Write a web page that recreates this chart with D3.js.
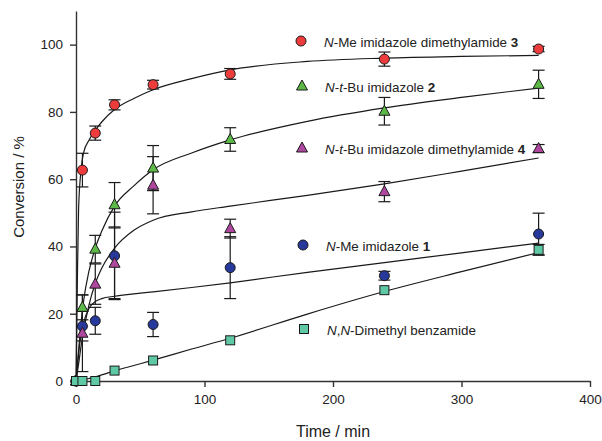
<!DOCTYPE html>
<html>
<head>
<meta charset="utf-8">
<script src="https://cdn.jsdelivr.net/npm/d3@7"></script>
<style>
  body { margin: 0; background: #fff; }
  svg { font-family: "Liberation Sans", Arial, sans-serif; }
  .axis path, .axis line { stroke: #333; stroke-width: 1.4; }
  .axis text { fill: #222; font-size: 13.5px; }
</style>
</head>
<body>
<svg width="602" height="441"></svg>
<script>
// ---- data ----
const times = [0, 5, 15, 30, 60, 120, 240, 360];

const redVals = [0, 62.7, 73.7, 82.1, 88.1, 91.3, 95.7, 98.7];
const redErr = [0, 5, 2.1, 1.5, 1.3, 1.6, 2.1, 0.8];
const greenVals = [0, 21.9, 39.2, 52.4, 63.3, 71.8, 80.2, 88.2];
const greenErr = [0, 3.7, 4.1, 6.6, 6.7, 3.5, 4.1, 4.2];
const magentaVals = [0, 14.2, 28.8, 35, 58.2, 45.3, 56.3, 69.1];
const magentaErr = [0, 11.4, 6, 10.5, 8.5, 2.8, 3, 1.2];
const blueVals = [0, 16.3, 17.9, 37.2, 16.8, 33.7, 31.3, 43.7];
const blueErr = [0, 4.4, 4, 13, 3.6, 9.2, 1.3, 6.2];
const tealVals = [0, 0, 0, 3.1, 6.1, 12.1, 27, 39];
const tealErr = [0, 0, 0, 0, 0, 0, 0, 1.6];

// fitted curves, read at these times
const fitTimes = [0, 1, 2, 4, 6, 10, 15, 20, 30, 45, 60, 90, 120, 180, 240, 300, 360];
const fitRed = [0, 28, 51, 63, 68, 71.5, 74.5, 77, 80.7, 84, 86.6, 89.9, 92.5, 95, 96, 96.5, 96.8];
const fitGreen = [0, 4.5, 9, 17.5, 24, 32.5, 39.5, 44.5, 52, 58, 62.8, 67.8, 71.7, 77.2, 81.2, 84.3, 87.1];
const fitMagenta = [0, 2.5, 5, 10.5, 15, 22.5, 29, 33.5, 39.5, 44.8, 47.8, 50.3, 52, 55.2, 58.6, 62.4, 66.3];
const fitBlue = [0, 4, 8, 14, 17.5, 21.5, 23.6, 24.5, 25.2, 25.9, 26.5, 27.8, 29.2, 32.3, 35.2, 38.1, 41];
const fitTeal = [0, 0.05, 0.1, 0.25, 0.4, 0.75, 1.2, 1.8, 3, 4.6, 6.2, 9.5, 12.7, 19.9, 26.6, 32.5, 38.2];

const xTicks = [0, 100, 200, 300, 400];
const yTicks = [0, 20, 40, 60, 80, 100];

// ---- series setup ----
const series = [
  { vals: blueVals, err: blueErr, fit: fitBlue, shape: "circle", color: "#27399a",
    label: [["N", "i"], ["-Me imidazole ", ""], ["1", "b"]], lx: 303, ly: 245 },
  { vals: magentaVals, err: magentaErr, fit: fitMagenta, shape: "triangle", color: "#b0479f",
    label: [["N", "i"], ["-", ""], ["t", "i"], ["-Bu imidazole dimethylamide ", ""], ["4", "b"]], lx: 302, ly: 148 },
  { vals: greenVals, err: greenErr, fit: fitGreen, shape: "triangle", color: "#5cb847",
    label: [["N", "i"], ["-", ""], ["t", "i"], ["-Bu imidazole ", ""], ["2", "b"]], lx: 302, ly: 86 },
  { vals: redVals, err: redErr, fit: fitRed, shape: "circle", color: "#ee3b3b",
    label: [["N", "i"], ["-Me imidazole dimethylamide ", ""], ["3", "b"]], lx: 301, ly: 41 },
  { vals: tealVals, err: tealErr, fit: fitTeal, shape: "square", color: "#5fc9a6",
    label: [["N", "i"], [",", ""], ["N", "i"], ["-Dimethyl benzamide", ""]], lx: 304, ly: 329 }
];

const svg = d3.select("svg");

const x = d3.scaleLinear().domain([0, 400]).range([76, 590]);
const y = d3.scaleLinear().domain([0, 110]).range([381, 11]);

// axes
svg.append("g")
  .attr("class", "axis")
  .attr("transform", "translate(0,381)")
  .call(d3.axisBottom(x).tickValues(xTicks).tickSize(6).tickSizeOuter(0).tickPadding(7));

svg.append("g")
  .attr("class", "axis")
  .attr("transform", "translate(76,0)")
  .call(d3.axisLeft(y).tickValues(yTicks).tickSize(6).tickSizeOuter(0).tickPadding(7));

svg.append("text")
  .attr("x", 333).attr("y", 437)
  .attr("text-anchor", "middle")
  .style("font-size", "16px").attr("fill", "#222")
  .text("Time / min");

svg.append("text")
  .attr("transform", "translate(24,187) rotate(-90)")
  .attr("text-anchor", "middle")
  .style("font-size", "15px").attr("fill", "#222")
  .text("Conversion / %");

// fit lines
const line = d3.line()
  .x((d, i) => x(fitTimes[i]))
  .y(d => y(d))
  .curve(d3.curveMonotoneX);

series.forEach(s => {
  svg.append("path")
    .attr("d", line(s.fit))
    .attr("fill", "none")
    .attr("stroke", "#1a1a1a")
    .attr("stroke-width", 1.2);
});

// error bars
series.forEach(s => {
  const g = svg.append("g").attr("stroke", "#1a1a1a").attr("stroke-width", 1.2);
  times.forEach((t, i) => {
    const e = s.err[i];
    if (!e) return;
    const cx = x(t), top = y(s.vals[i] + e), bot = y(s.vals[i] - e);
    g.append("line").attr("x1", cx).attr("x2", cx).attr("y1", top).attr("y2", bot);
    g.append("line").attr("x1", cx - 6).attr("x2", cx + 6).attr("y1", top).attr("y2", top);
    g.append("line").attr("x1", cx - 6).attr("x2", cx + 6).attr("y1", bot).attr("y2", bot);
  });
});

// markers
function marker(g, shape, cx, cy, color) {
  let m;
  if (shape === "circle") {
    m = g.append("circle").attr("cx", cx).attr("cy", cy).attr("r", 5);
  } else if (shape === "square") {
    m = g.append("rect").attr("x", cx - 4.5).attr("y", cy - 4.5).attr("width", 9).attr("height", 9);
  } else {
    m = g.append("path").attr("d", `M${cx},${cy - 6}L${cx + 5.5},${cy + 4}L${cx - 5.5},${cy + 4}Z`);
  }
  m.attr("fill", color).attr("stroke", "#1a1a1a").attr("stroke-width", 1);
}

series.forEach(s => {
  const g = svg.append("g");
  times.forEach((t, i) => marker(g, s.shape, x(t), y(s.vals[i]), s.color));
});

// legend
series.forEach(s => {
  const g = svg.append("g");
  marker(g, s.shape, s.lx, s.ly, s.color);
  const txt = g.append("text")
    .attr("x", s.lx + 23).attr("y", s.ly + 5.5)
    .style("font-size", "13.4px").attr("fill", "#222");
  s.label.forEach(p => {
    txt.append("tspan")
      .attr("font-style", p[1] === "i" ? "italic" : null)
      .attr("font-weight", p[1] === "b" ? "bold" : null)
      .text(p[0]);
  });
});
</script>
</body>
</html>
